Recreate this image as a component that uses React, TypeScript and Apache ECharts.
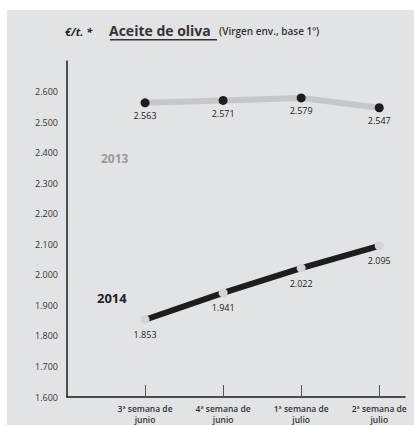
import React, { useEffect, useRef } from "react";
import * as echarts from "echarts";

const categories = ["3ª semana de\njunio", "4ª semana de\njunio", "1ª semana de\njulio", "2ª semana de\njulio"];
const values2013 = [2563, 2571, 2579, 2547];
const values2014 = [1853, 1941, 2022, 2095];
const yMin = 1600;
const yMax = 2700;
const yStep = 100;

const fmt = (v: number) => {
  const s = String(Math.round(v));
  return s.length > 3 ? s.slice(0, s.length - 3) + "." + s.slice(s.length - 3) : s;
};

const FONT = "'Open Sans', 'Noto Sans', sans-serif";

export default function App() {
  const ref = useRef<HTMLDivElement>(null);
  useEffect(() => {
    if (!ref.current) return;
    const chart = echarts.init(ref.current, null, { renderer: "svg" });
    chart.setOption({
      animation: false,
      backgroundColor: "#ffffff",
      textStyle: { fontFamily: FONT },
      grid: { left: 67, right: 9, top: 61, bottom: 28, containLabel: false },
      graphic: [
        { type: "rect", z: -10, silent: true, shape: { x: 7, y: 10, width: 407, height: 415 }, style: { fill: "#e2e3e5" } },
        { type: "text", x: 65, y: 31, style: { text: "€/t. *", font: `italic bold 11px ${FONT}`, fill: "#2a2a2a", verticalAlign: "middle" } },
        { type: "text", x: 109, y: 30, style: { text: "Aceite de oliva", font: `bold 14px ${FONT}`, fill: "#333333", verticalAlign: "middle" } },
        { type: "rect", shape: { x: 110, y: 39, width: 107, height: 1.6 }, style: { fill: "#333333" } },
        { type: "text", x: 219, y: 31, style: { text: "(Virgen env., base 1º)", font: `600 10px ${FONT}`, fill: "#333333", verticalAlign: "middle" } },
        { type: "text", x: 101, y: 158, style: { text: "2013", font: `bold 12px ${FONT}`, fill: "#9a9a9a", verticalAlign: "middle" } },
        { type: "text", x: 97, y: 298, style: { text: "2014", font: `bold 13px ${FONT}`, fill: "#222222", verticalAlign: "middle" } },
      ],
      xAxis: {
        type: "value",
        min: -1,
        max: 3.33,
        splitLine: { show: false },
        axisLine: { show: true, onZero: false, lineStyle: { color: "#1e1c1d", width: 1.5 } },
        axisTick: { show: true, inside: true, length: 12, customValues: [0, 1, 2, 3], lineStyle: { color: "#555555", width: 1 } },
        axisLabel: {
          customValues: [0, 1, 2, 3],
          formatter: (v: number) => categories[Math.round(v)] ?? "",
          fontSize: 8.5,
          fontWeight: 600,
          color: "#333333",
          lineHeight: 11,
          margin: 6,
          fontFamily: FONT,
        },
      },
      yAxis: {
        type: "value",
        min: yMin,
        max: yMax,
        interval: yStep,
        splitLine: { show: false },
        axisLine: { show: true, onZero: false, lineStyle: { color: "#1e1c1d", width: 1.5 } },
        axisTick: { show: false },
        axisLabel: {
          formatter: (v: number) => (v >= yMax ? "" : fmt(v)),
          fontSize: 9,
          color: "#333333",
          margin: 9,
          fontFamily: FONT,
        },
      },
      series: [
        {
          name: "2013",
          type: "line",
          data: values2013.map((v, i) => [i, v]),
          symbol: "circle",
          symbolSize: 9,
          itemStyle: { color: "#1e1c1d" },
          lineStyle: { color: "#c6c7c9", width: 6 },
          label: { show: true, position: "bottom", distance: 4, formatter: (p: any) => fmt(p.value[1]), fontSize: 9, color: "#222222", fontFamily: FONT },
        },
        {
          name: "2014",
          type: "line",
          data: values2014.map((v, i) => [i, v]),
          symbol: "circle",
          symbolSize: 9,
          itemStyle: { color: "#d2d3d5" },
          lineStyle: { color: "#1e1c1d", width: 6 },
          label: { show: true, position: "bottom", distance: 6, formatter: (p: any) => fmt(p.value[1]), fontSize: 9, color: "#222222", fontFamily: FONT },
        },
      ],
    });
    return () => chart.dispose();
  }, []);
  return <div ref={ref} style={{ position: "absolute", left: 0, top: 0, width: 414, height: 425 }} />;
}
